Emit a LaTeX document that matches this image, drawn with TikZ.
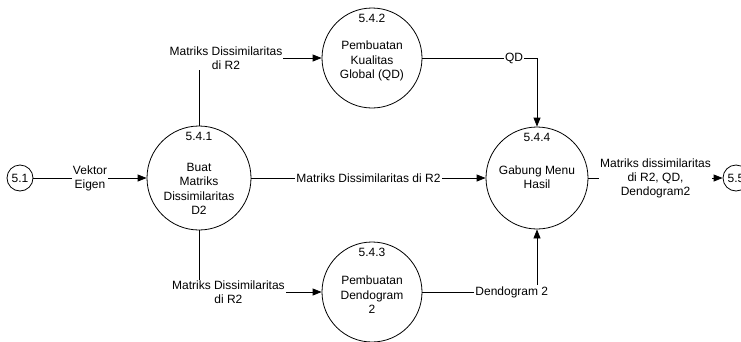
\documentclass[tikz,border=0pt]{standalone}
\usepackage{fontspec}
\setmainfont{Liberation Sans}
\usetikzlibrary{arrows.meta,positioning}

\begin{document}
\begin{tikzpicture}[
    x=1pt, y=-1pt,
    proc/.style={circle, draw=black, line width=0.8pt, inner sep=0pt, font=\fontsize{12}{14}\selectfont},
    ptext/.style={align=center, inner sep=0pt, font=\fontsize{12}{14.5}\selectfont},
    num/.style={below, inner sep=6pt, font=\fontsize{12}{14}\selectfont},
    lbl/.style={fill=white, inner sep=1pt, align=center, font=\fontsize{12}{14}\selectfont},
    flow/.style={-{Triangle[length=9pt,width=7pt]}, line width=0.8pt}
]
\useasboundingbox (0,0) rectangle (741,341);

% Processes
\node[proc, minimum size=26] (p51) at (20,178) {5.1};
\node[proc, minimum size=104, label={[ptext, yshift=-11pt]center:{Buat\\Matriks\\Dissimilaritas\\D2}}] (p541) at (199,178) {};
\node[num] (n541) at (p541.north) {5.4.1};

\node[proc, minimum size=100, label={[ptext, yshift=-3pt]center:{Pembuatan\\Kualitas\\Global (QD)}}] (p542) at (372,58) {};
\node[num] (n542) at (p542.north) {5.4.2};

\node[proc, minimum size=100, label={[ptext, yshift=-3pt]center:{Pembuatan\\Dendogram\\2}}] (p543) at (372,292) {};
\node[num] (n543) at (p543.north) {5.4.3};

\node[proc, minimum size=102, label={[ptext, yshift=1pt]center:{Gabung Menu\\Hasil}}] (p544) at (537,178) {};
\node[num] (n544) at (p544.north) {5.4.4};

\node[proc, minimum size=26] (p55) at (736,178) {5.5};

% Data flows
\draw[flow] (p51) -- node[lbl] {Vektor\\Eigen} (p541);
\draw[flow] (p541.north) |- node[lbl, pos=0.61] {Matriks Dissimilaritas\\di R2} (p542.west);
\draw[flow] (p541) -- node[lbl] {Matriks Dissimilaritas di R2} (p544);
\draw[flow] (p541.south) |- node[lbl, pos=0.62] {Matriks Dissimilaritas\\di R2} (p543.west);
\draw[flow] (p542.east) -| node[lbl, pos=0.4] {QD} (p544.north);
\draw[flow] (p543.east) -| node[lbl, pos=0.39] {Dendogram 2} (p544.south);
\draw[flow] (p544) -- node[lbl] {Matriks dissimilaritas\\di R2, QD,\\Dendogram2} (p55);

\end{tikzpicture}
\end{document}
